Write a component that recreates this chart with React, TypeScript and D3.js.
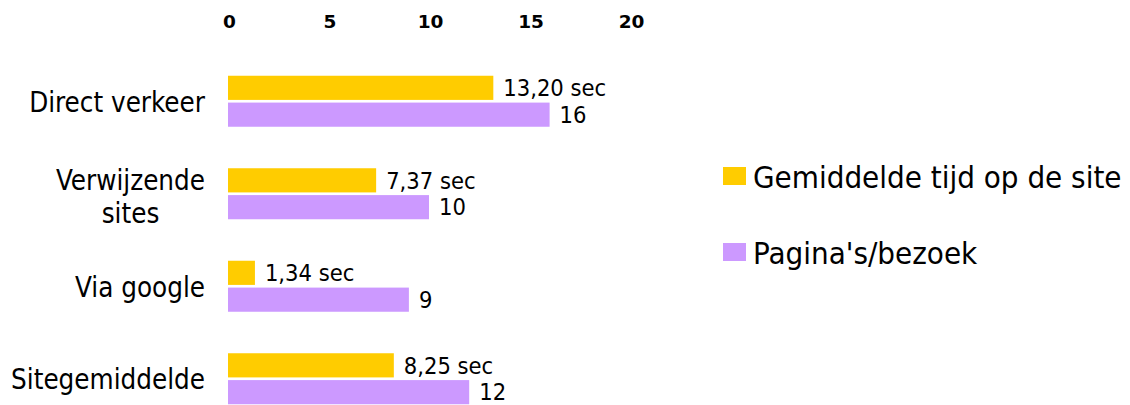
import React, { useEffect, useRef } from "react";
import * as d3 from "d3";

const categories = ["Direct verkeer", "Verwijzende sites", "Via google", "Sitegemiddelde"];
const categoryLines = [["Direct verkeer"], ["Verwijzende", "sites"], ["Via google"], ["Sitegemiddelde"]];
const series = ["Gemiddelde tijd op de site", "Pagina's/bezoek"];
const timeValues = [13.2, 7.37, 1.34, 8.25];
const timeLabels = ["13,20 sec", "7,37 sec", "1,34 sec", "8,25 sec"];
const pageValues = [16, 10, 9, 12];
const pageLabels = ["16", "10", "9", "12"];
const xTicks = [0, 5, 10, 15, 20];
const colors = ["#FFCC00", "#CC99FF"];

const FONT = "'DejaVu Sans Condensed', 'DejaVu Sans', Tahoma, sans-serif";
const TICKFONT = "'DejaVu Sans', Tahoma, sans-serif";

export default function App() {
  const ref = useRef<SVGSVGElement>(null);
  useEffect(() => {
    const svg = d3.select(ref.current);
    svg.selectAll("*").remove();
    const x = d3.scaleLinear().domain([0, 20]).range([228, 630]);
    const y = d3.scaleBand().domain(categories).range([55, 425]);
    const sub = d3.scaleBand().domain(series).range([-25.5, 25.5]).paddingInner(0.1);

    // ticks
    svg.append("g").selectAll("text").data(xTicks).join("text")
      .attr("x", (d) => x(d) + 1.5).attr("y", 21.5).attr("dy", "0.35em")
      .attr("text-anchor", "middle").attr("font-family", TICKFONT).attr("font-weight", "bold")
      .attr("font-size", 18.5).attr("fill", "#000").text((d) => String(d));

    const seriesData = [
      { name: series[0], values: timeValues, labels: timeLabels, color: colors[0] },
      { name: series[1], values: pageValues, labels: pageLabels, color: colors[1] },
    ];

    seriesData.forEach((s) => {
      const g = svg.append("g");
      categories.forEach((c, i) => {
        const cy = (y(c) as number) + y.bandwidth() / 2 + (sub(s.name) as number);
        g.append("rect").attr("x", x(0)).attr("y", cy).attr("width", x(s.values[i]) - x(0))
          .attr("height", sub.bandwidth()).attr("fill", s.color);
        g.append("text").attr("x", x(s.values[i]) + 10).attr("y", cy + sub.bandwidth() / 2)
          .attr("dy", "0.35em").attr("font-family", FONT).attr("font-size", 23.5).attr("fill", "#000")
          .text(s.labels[i]);
      });
    });

    // category labels
    categories.forEach((c, i) => {
      const lines = categoryLines[i];
      const cy = (y(c) as number) + y.bandwidth() / 2 + 1;
      const t = svg.append("text").attr("font-family", FONT).attr("font-size", 27.5).attr("fill", "#000");
      const lh = 33;
      lines.forEach((ln, j) => {
        t.append("tspan").attr("x", 205).attr("y", cy + (j - (lines.length - 1) / 2) * lh + (lines.length > 1 ? 2 : 0))
          .attr("dy", "0.35em").text(ln);
      });
      if (lines.length > 1) {
        const spans = t.selectAll<SVGTSpanElement, unknown>("tspan").nodes();
        const widths = spans.map((n) => n.getComputedTextLength());
        const maxW = Math.max(...widths);
        spans.forEach((n) => {
          d3.select(n).attr("x", 205 - maxW / 2).attr("text-anchor", "middle");
        });
      } else {
        t.attr("text-anchor", "end");
      }
    });

    // legend
    const legendY = [177, 253];
    seriesData.forEach((s, i) => {
      svg.append("rect").attr("x", 723).attr("y", legendY[i] - 10).attr("width", 23).attr("height", 18)
        .attr("fill", s.color);
      svg.append("text").attr("x", 753).attr("y", legendY[i]).attr("dy", "0.35em")
        .attr("font-family", FONT).attr("font-size", 31).attr("fill", "#000").text(s.name);
    });
  }, []);
  return (
    <svg ref={ref} width={1130} height={405}
      style={{ position: "absolute", left: 0, top: 0, background: "#fff" }} />
  );
}
